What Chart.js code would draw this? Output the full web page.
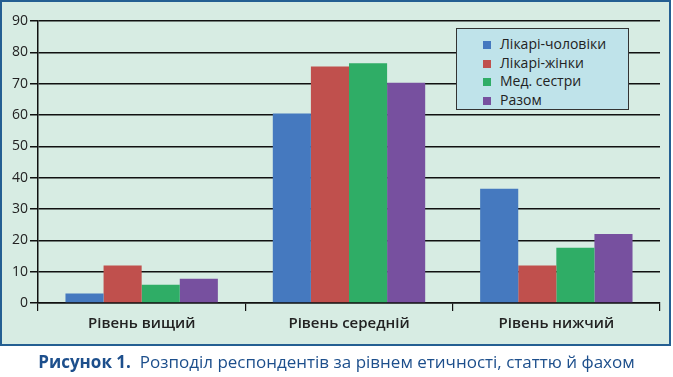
<!DOCTYPE html>
<html><head><meta charset="utf-8">
<script src="https://cdn.jsdelivr.net/npm/chart.js@4/dist/chart.umd.min.js"></script>
<style>
html,body{margin:0;padding:0;width:673px;height:377px;background:#fff;overflow:hidden;font-family:"Open Sans",sans-serif;}
#panel{position:absolute;left:0;top:0;width:667px;height:342px;border:2px solid #245f92;background:#d7ece3;}
#wrap{position:absolute;left:0;top:0;width:673px;height:377px;}
#legend{position:absolute;left:456px;top:28px;width:171px;height:80px;border:1px solid #333;background:#bfe3ea;}
.li{position:absolute;left:26px;height:18px;line-height:18px;font-size:14px;color:#222;white-space:nowrap;}
.sw{display:inline-block;width:8px;height:8px;margin-right:9px;vertical-align:0px;}
#caption{position:absolute;left:0;width:673px;top:350px;text-align:center;font-size:17px;color:#1d4f8c;white-space:nowrap;}
#caption b{font-weight:700;}
</style></head>
<body>
<div id="panel"></div>
<div id="wrap"><canvas id="c" width="673" height="377"></canvas></div>
<div id="legend"></div>
<div id="caption"><b>Рисунок 1.</b>&nbsp; Розподіл респондентів за рівнем етичності, статтю й фахом</div>
<script>
const categories = ["Рівень вищий", "Рівень середній", "Рівень нижчий"];
const seriesNames = ["Лікарі-чоловіки", "Лікарі-жінки", "Мед. сестри", "Разом"];
const doctorsMen = [3, 60.5, 36.5];
const doctorsWomen = [12, 75.5, 12];
const nurses = [5.8, 76.5, 17.6];
const total = [7.7, 70.3, 22];
const yTicks = [0, 10, 20, 30, 40, 50, 60, 70, 80, 90];
const colors = ["#4579bf", "#c0504d", "#2fad66", "#77509f"];

const seriesValues = [doctorsMen, doctorsWomen, nurses, total];
const datasets = seriesNames.map((n, i) => ({
  label: n, data: seriesValues[i], backgroundColor: colors[i],
  borderWidth: 0, barPercentage: 1, categoryPercentage: 0.735
}));

const lg = document.getElementById('legend');
seriesNames.forEach((n, i) => {
  const d = document.createElement('div');
  d.className = 'li';
  d.style.top = (6 + i * 18.7) + 'px';
  d.innerHTML = '<span class="sw" style="background:' + colors[i] + '"></span>' + n;
  lg.appendChild(d);
});

new Chart(document.getElementById('c'), {
  type: 'bar',
  data: { labels: categories, datasets },
  options: {
    responsive: false, animation: false,
    layout: { padding: { left: 0, top: 21, right: 13, bottom: 0 } },
    plugins: { legend: { display: false }, tooltip: { enabled: false } },
    scales: {
      x: {
        afterFit: s => { s.height = 74; },
        grid: { offset: true, drawOnChartArea: false, color: '#111', lineWidth: 1.2, tickLength: 8 },
        border: { color: '#111', width: 1.5 },
        ticks: { color: '#222', font: { family: 'Open Sans', size: 15, weight: '600' }, padding: 4 }
      },
      y: {
        min: 0, max: 90,
        afterFit: s => { s.width = 38; },
        afterBuildTicks: s => { s.ticks = yTicks.map(v => ({ value: v })); },
        grid: { color: '#111', lineWidth: 1.5, tickLength: 8 },
        border: { color: '#111', width: 1.5 },
        ticks: { color: '#222', font: { family: 'Open Sans', size: 14 }, padding: 2 }
      }
    }
  }
});
</script>
</body></html>
